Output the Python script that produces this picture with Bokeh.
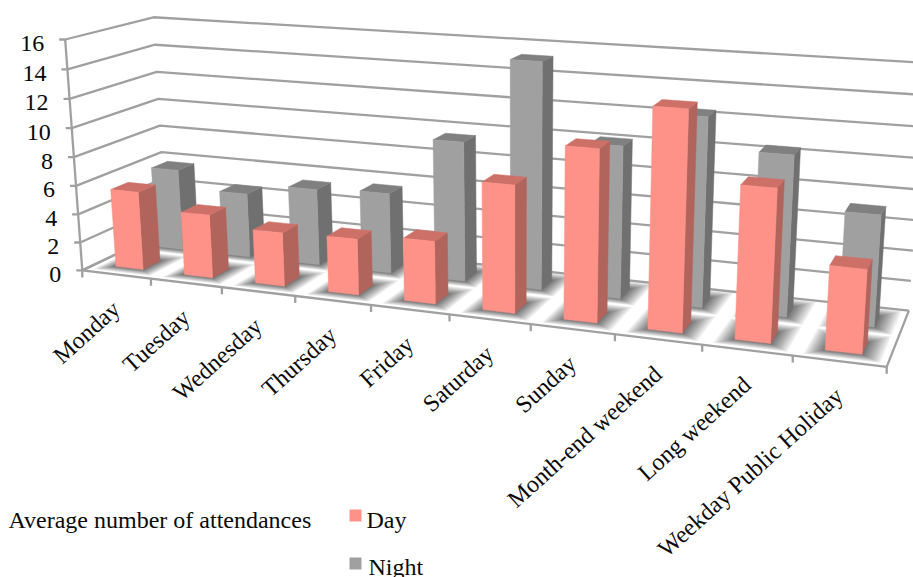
import numpy as np
from bokeh.core.properties import value
from bokeh.embed import file_html
from bokeh.models import Range1d
from bokeh.plotting import figure
from bokeh.resources import INLINE

categories = ["Monday", "Tuesday", "Wednesday", "Thursday", "Friday", "Saturday",
              "Sunday", "Month-end weekend", "Long weekend", "Weekday Public Holiday"]
day = [5.5, 4.4, 3.7, 3.8, 4.2, 8.4, 11.15, 14.0, 9.65, 5.25]
night = [5.85, 4.6, 5.4, 5.6, 9.6, 15.3, 10.2, 12.5, 10.5, 7.2]
y_ticks = [0, 2, 4, 6, 8, 10, 12, 14, 16]
series_title = "Average number of attendances"

FONT = value("Liberation Serif")
GRID = "#a0a0a0"
INK = "#0a0a0a"
DAY_FACES = ("#ff9288", "#b0645c", "#cc7068")
NIGHT_FACES = ("#a0a0a0", "#707070", "#808080")

# Camera calibration: chart-box corners (category, depth, height) and their screen positions.
box_points = [(0, 0, 0), (0, 0, 16), (0, 1, 16), (0, 1, 0), (10, 0, 0), (10, 1, 0), (10, 1, 16), (5, 0, 0)]
screen_points = [(81.7, 269.3), (65, 39.5), (152.7, 15.7), (166, 231), (886.7, 366.7),
                 (908.3, 309.3), (925, 63), (448.3, 313.7)]


def fit_camera(world, image):
    rows = []
    for (X, Y, Z), (u, v) in zip(world, image):
        rows.append([X, Y, Z, 1, 0, 0, 0, 0, -u * X, -u * Y, -u * Z, -u])
        rows.append([0, 0, 0, 0, X, Y, Z, 1, -v * X, -v * Y, -v * Z, -v])
    return np.linalg.svd(np.array(rows, dtype=float))[2][-1].reshape(3, 4)


CAMERA = fit_camera(box_points, screen_points)


def project(u, w, h):
    sx, sy, sw = CAMERA @ np.array([u, w, h, 1.0])
    return sx / sw, sy / sw


def polygon(corners):
    pts = [project(*c) for c in corners]
    return [p[0] for p in pts], [p[1] for p in pts]


p = figure(width=913, height=577, output_backend="svg", toolbar_location=None,
           x_range=Range1d(0, 913), y_range=Range1d(577, 0), min_border=0,
           x_axis_location=None, y_axis_location=None, outline_line_color=None,
           background_fill_color="white", border_fill_color="white")
p.grid.visible = False

# Gridlines on the side wall and back wall
for t in y_ticks:
    xs, ys = polygon([(0, 0, t), (0, 1, t), (10, 1, t)])
    p.line(xs, ys, line_color=GRID, line_width=2.3)
    tx, ty = project(0, 0, t)
    p.line([tx - 6, tx], [ty, ty], line_color=GRID, line_width=2.3)
    p.text([tx - 21], [ty + 4], text=[str(t)], text_font=FONT, text_font_size="24px",
           text_align="right", text_baseline="middle", text_color=INK)

# Vertical axis and the floor outline
xs, ys = polygon([(0, 0, 0), (0, 0, 16)])
p.line(xs, ys, line_color=GRID, line_width=2.3)
xs, ys = polygon([(0, 1, 0), (0, 0, 0), (10, 0, 0), (10, 1, 0)])
p.line(xs, ys, line_color=GRID, line_width=2.3)
for i in range(len(categories) + 1):
    tx, ty = project(i, 0, 0)
    p.line([tx, tx], [ty, ty + 7], line_color=GRID, line_width=2.3)

# Row layout along the depth axis, and bar footprint within a category
BAR_LO, BAR_HI = 0.3, 0.7
ROWS = [(night, 0.63, 0.83, NIGHT_FACES), (day, 0.15, 0.35, DAY_FACES)]

# Soft floor shadows, built from nested translucent footprints
SHADOW_STEPS = 14
shadow_x, shadow_y = [], []
for _, w0, w1, _faces in ROWS:
    for i in range(len(categories)):
        for k in range(SHADOW_STEPS):
            grow = ((SHADOW_STEPS - k) / SHADOW_STEPS) ** 1.3
            xs, ys = polygon([
                (i + BAR_LO - 0.2 * grow, w0 - 0.1 * grow, 0),
                (i + BAR_HI + 0.22 * grow, w0 - 0.1 * grow, 0),
                (i + BAR_HI + 0.22 * grow, w1 + 0.15 * grow, 0),
                (i + BAR_LO - 0.2 * grow, w1 + 0.15 * grow, 0),
            ])
            shadow_x.append(xs)
            shadow_y.append(ys)
p.patches(shadow_x, shadow_y, fill_color="#2a2a2a", fill_alpha=0.07, line_color=None)

# Bars, back row first so the front row overlaps it
for values, w0, w1, (front, side, top) in ROWS:
    px, py, colors = [], [], []
    for i, v in reversed(list(enumerate(values))):
        a, b = i + BAR_LO, i + BAR_HI
        faces = [
            ([(b, w0, 0), (b, w1, 0), (b, w1, v), (b, w0, v)], side),
            ([(a, w0, v), (b, w0, v), (b, w1, v), (a, w1, v)], top),
            ([(a, w0, 0), (b, w0, 0), (b, w0, v), (a, w0, v)], front),
        ]
        for corners, color in faces:
            xs, ys = polygon(corners)
            px.append(xs)
            py.append(ys)
            colors.append(color)
    p.patches(px, py, fill_color=colors, line_color=colors, line_width=0.5)

# Category labels, rotated and ending under each category
for i, name in enumerate(categories):
    tx, ty = project(i + 0.5, 0, 0)
    p.text([tx], [ty + 31], text=[name], text_font=FONT, text_font_size="24px",
           text_align="right", text_baseline="middle", angle=np.radians(42), text_color=INK)

# Legend
p.text([8], [519], text=[series_title], text_font=FONT, text_font_size="24px",
       text_baseline="middle", text_color=INK)
p.rect([355], [515], width=12, height=12, fill_color=DAY_FACES[0], line_color=None)
p.rect([355], [563], width=12, height=12, fill_color=NIGHT_FACES[0], line_color=None)
p.text([366], [519], text=["Day"], text_font=FONT, text_font_size="24px",
       text_baseline="middle", text_color=INK)
p.text([368], [566], text=["Night"], text_font=FONT, text_font_size="24px",
       text_baseline="middle", text_color=INK)

open("out.html", "w").write(file_html(p, INLINE))
